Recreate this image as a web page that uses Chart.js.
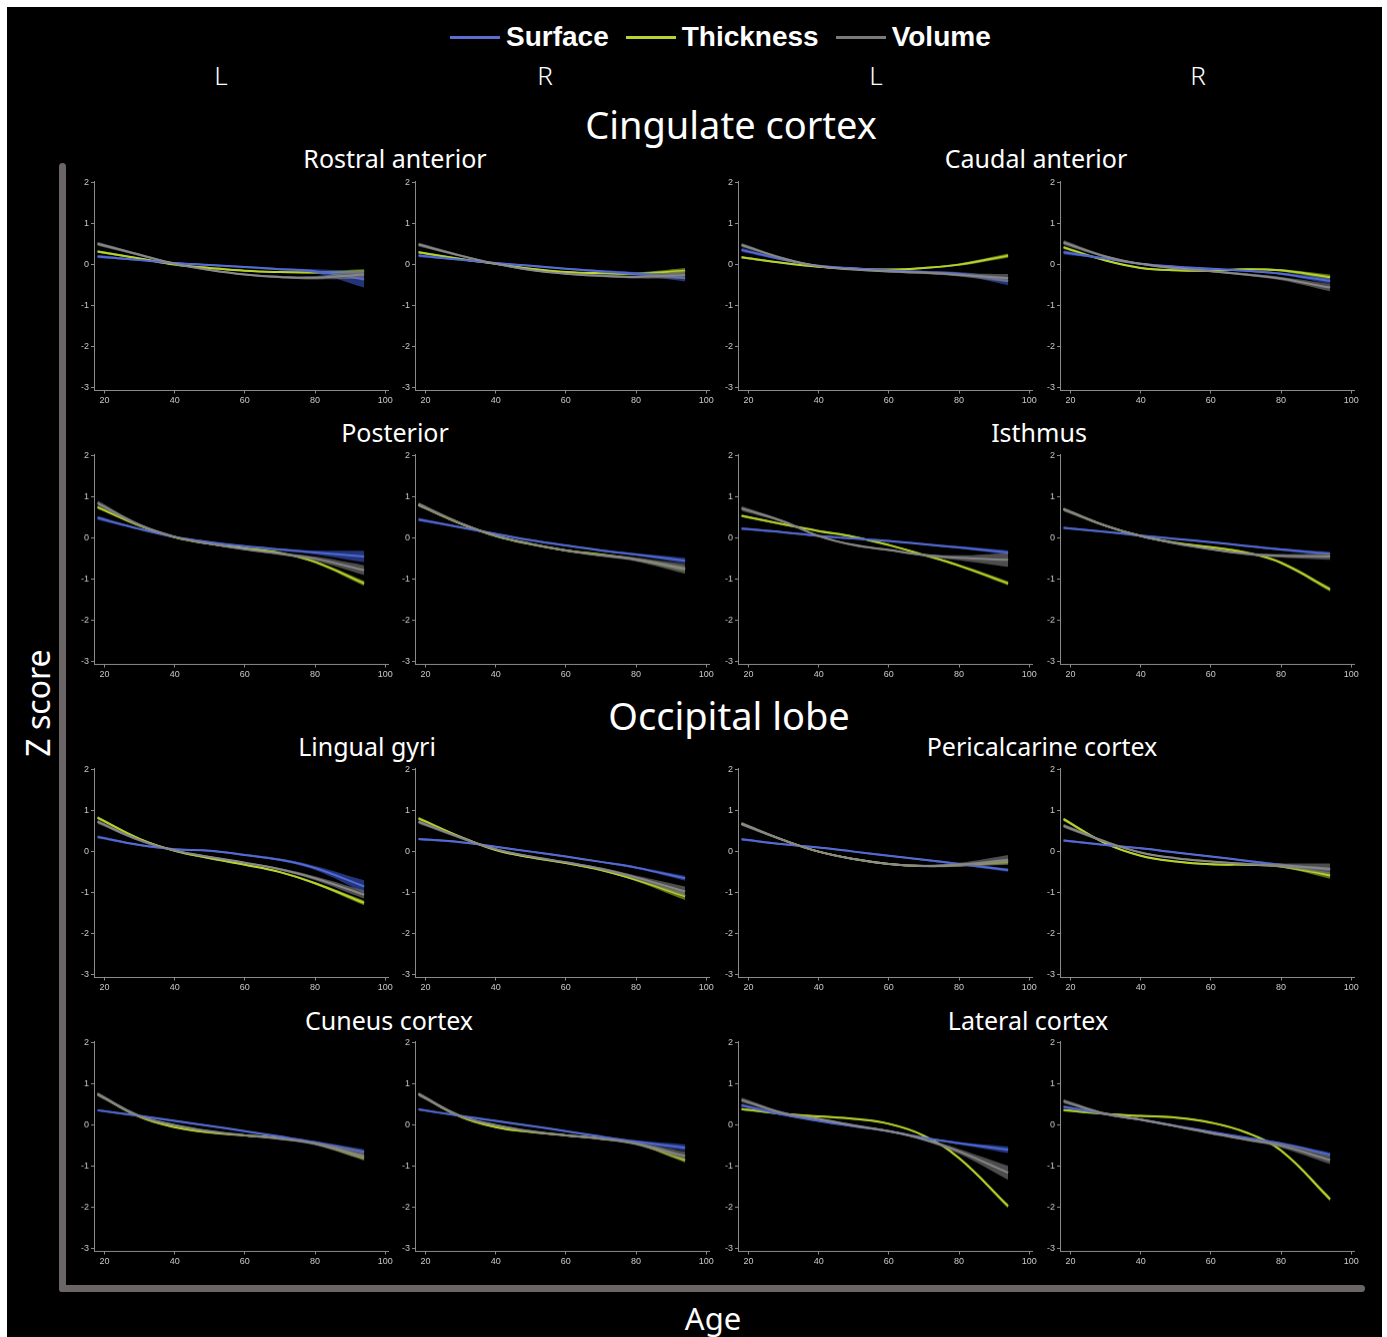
<!DOCTYPE html>
<html>
<head>
<meta charset="utf-8">
<script src="https://cdn.jsdelivr.net/npm/chart.js@4"></script>
<style>
  body { margin: 0; width: 1387px; height: 1337px; background: #fff; position: relative; overflow: hidden; }
  #frame { position: absolute; left: 7px; top: 7px; width: 1375px; height: 1330px; background: #000; }
  .txt { position: absolute; color: #fff; font-family: "Noto Sans", sans-serif; white-space: nowrap; transform: translate(-50%, -50%); line-height: 1; }
  .legend { position: absolute; top: 37px; left: 450px; transform: translateY(-50%); display: flex; align-items: center;
            font-family: "Liberation Sans", Arial, sans-serif; font-weight: bold; font-size: 28px; color: #fff; }
  .legend span.line { display: inline-block; width: 50px; height: 3px; margin-right: 6px; }
  .legend span.lab { margin-right: 17px; }
  .bar { position: absolute; background: #6b6566; border-radius: 4px; }
  .panel { position: absolute; }
</style>
</head>
<body>
<div id="frame"></div>

<div class="legend">
  <span class="line" style="background:#5b6fd2"></span><span class="lab">Surface</span>
  <span class="line" style="background:#b8d432"></span><span class="lab">Thickness</span>
  <span class="line" style="background:#7a7a7a"></span><span class="lab">Volume</span>
</div>

<div class="txt" style="left:221px;top:75px;font-size:26px;font-weight:300">L</div>
<div class="txt" style="left:545px;top:75px;font-size:26px;font-weight:300">R</div>
<div class="txt" style="left:876px;top:75px;font-size:26px;font-weight:300">L</div>
<div class="txt" style="left:1198px;top:75px;font-size:26px;font-weight:300">R</div>

<div class="txt" style="left:731px;top:124px;font-size:38px">Cingulate cortex</div>
<div class="txt" style="left:729px;top:715px;font-size:38px">Occipital lobe</div>

<div class="txt" style="left:395px;top:158px;font-size:25px">Rostral anterior</div>
<div class="txt" style="left:1036px;top:158px;font-size:25px">Caudal anterior</div>
<div class="txt" style="left:395px;top:432px;font-size:25px">Posterior</div>
<div class="txt" style="left:1039px;top:432px;font-size:25px">Isthmus</div>
<div class="txt" style="left:367px;top:746px;font-size:25px">Lingual gyri</div>
<div class="txt" style="left:1042px;top:746px;font-size:25px">Pericalcarine cortex</div>
<div class="txt" style="left:389px;top:1020px;font-size:25px">Cuneus cortex</div>
<div class="txt" style="left:1028px;top:1020px;font-size:25px">Lateral cortex</div>

<div class="txt" style="left:38px;top:703px;font-size:32px;transform:translate(-50%,-50%) rotate(-90deg)">Z score</div>
<div class="txt" style="left:713px;top:1318px;font-size:31px">Age</div>

<div class="bar" style="left:59px;top:163px;width:7px;height:1129px"></div>
<div class="bar" style="left:59px;top:1285px;width:1306px;height:7px"></div>

<div id="panels"></div>

<script>
// =========
// Data
// =========
// Panels go row by row: Rostral L/R, Caudal L/R, Posterior L/R, Isthmus L/R,
// Lingual L/R, Pericalcarine L/R, Cuneus L/R, Lateral L/R

const ages = [18, 30, 40, 50, 60, 70, 80, 94];
const xTicks = [20, 40, 60, 80, 100];
const yTicks = [-3, -2, -1, 0, 1, 2];

const surface = [
  [0.20, 0.11, 0.04, -0.01, -0.06, -0.11, -0.16, -0.36],
  [0.22, 0.12, 0.04, -0.03, -0.10, -0.16, -0.22, -0.33],
  [0.36, 0.12, -0.03, -0.09, -0.14, -0.18, -0.22, -0.40],
  [0.30, 0.15, 0.02, -0.05, -0.10, -0.15, -0.22, -0.40],
  [0.49, 0.22, 0.03, -0.10, -0.20, -0.28, -0.35, -0.45],
  [0.45, 0.26, 0.10, -0.05, -0.18, -0.30, -0.40, -0.55],
  [0.23, 0.14, 0.05, -0.01, -0.07, -0.15, -0.23, -0.35],
  [0.25, 0.15, 0.06, -0.02, -0.10, -0.19, -0.28, -0.38],
  [0.36, 0.16, 0.06, 0.02, -0.08, -0.20, -0.40, -0.85],
  [0.31, 0.23, 0.12, 0.00, -0.12, -0.25, -0.39, -0.65],
  [0.30, 0.18, 0.10, 0.00, -0.10, -0.20, -0.30, -0.45],
  [0.27, 0.16, 0.08, -0.02, -0.12, -0.22, -0.32, -0.44],
  [0.36, 0.22, 0.10, -0.02, -0.15, -0.28, -0.42, -0.65],
  [0.38, 0.22, 0.10, -0.02, -0.15, -0.28, -0.40, -0.55],
  [0.48, 0.25, 0.10, -0.03, -0.15, -0.31, -0.44, -0.60],
  [0.44, 0.27, 0.13, -0.02, -0.17, -0.31, -0.45, -0.72],
];

const thickness = [
  [0.32, 0.15, 0.00, -0.08, -0.15, -0.18, -0.19, -0.17],
  [0.30, 0.14, 0.02, -0.10, -0.18, -0.21, -0.22, -0.15],
  [0.18, 0.04, -0.05, -0.10, -0.12, -0.08, 0.00, 0.22],
  [0.42, 0.10, -0.08, -0.14, -0.15, -0.11, -0.14, -0.31],
  [0.75, 0.30, 0.02, -0.14, -0.25, -0.36, -0.58, -1.10],
  [0.80, 0.35, 0.05, -0.15, -0.30, -0.40, -0.52, -0.75],
  [0.54, 0.33, 0.17, 0.03, -0.17, -0.41, -0.67, -1.10],
  [0.70, 0.30, 0.05, -0.12, -0.22, -0.35, -0.60, -1.25],
  [0.83, 0.31, 0.02, -0.16, -0.32, -0.50, -0.77, -1.25],
  [0.81, 0.36, 0.04, -0.14, -0.28, -0.45, -0.69, -1.09],
  [0.68, 0.28, 0.00, -0.18, -0.30, -0.35, -0.33, -0.25],
  [0.79, 0.20, -0.10, -0.24, -0.31, -0.32, -0.36, -0.58],
  [0.75, 0.20, -0.05, -0.18, -0.25, -0.32, -0.45, -0.80],
  [0.75, 0.20, -0.05, -0.17, -0.25, -0.33, -0.45, -0.85],
  [0.39, 0.27, 0.21, 0.15, 0.03, -0.26, -0.80, -1.97],
  [0.36, 0.27, 0.22, 0.18, 0.06, -0.18, -0.62, -1.80],
];

const volume = [
  [0.51, 0.24, 0.02, -0.13, -0.24, -0.30, -0.32, -0.24],
  [0.49, 0.22, 0.02, -0.13, -0.22, -0.27, -0.30, -0.25],
  [0.48, 0.15, -0.04, -0.12, -0.17, -0.20, -0.25, -0.33],
  [0.54, 0.20, 0.02, -0.09, -0.16, -0.24, -0.34, -0.56],
  [0.85, 0.32, 0.03, -0.14, -0.27, -0.38, -0.50, -0.78],
  [0.82, 0.36, 0.06, -0.14, -0.30, -0.42, -0.52, -0.75],
  [0.72, 0.40, 0.05, -0.17, -0.29, -0.41, -0.48, -0.53],
  [0.70, 0.30, 0.05, -0.13, -0.27, -0.38, -0.43, -0.45],
  [0.73, 0.28, 0.03, -0.13, -0.27, -0.43, -0.65, -1.05],
  [0.73, 0.34, 0.06, -0.12, -0.26, -0.42, -0.63, -0.97],
  [0.68, 0.28, 0.00, -0.18, -0.30, -0.35, -0.32, -0.20],
  [0.63, 0.24, -0.02, -0.16, -0.24, -0.30, -0.34, -0.42],
  [0.75, 0.22, 0.00, -0.15, -0.25, -0.33, -0.45, -0.75],
  [0.75, 0.22, 0.00, -0.15, -0.25, -0.33, -0.45, -0.75],
  [0.61, 0.29, 0.15, -0.01, -0.15, -0.35, -0.64, -1.16],
  [0.58, 0.27, 0.13, -0.03, -0.20, -0.35, -0.50, -0.85],
];

//  Confidence band half-widths (same ages)
const surfaceCI = [
  [0.04, 0.02, 0.02, 0.02, 0.02, 0.03, 0.05, 0.20],
  [0.04, 0.02, 0.02, 0.02, 0.02, 0.03, 0.04, 0.08],
  [0.05, 0.02, 0.02, 0.02, 0.02, 0.03, 0.04, 0.10],
  [0.05, 0.02, 0.02, 0.02, 0.02, 0.02, 0.03, 0.07],
  [0.05, 0.02, 0.02, 0.02, 0.02, 0.03, 0.05, 0.14],
  [0.04, 0.02, 0.02, 0.02, 0.02, 0.02, 0.03, 0.07],
  [0.03, 0.02, 0.02, 0.02, 0.02, 0.02, 0.03, 0.05],
  [0.03, 0.02, 0.02, 0.02, 0.02, 0.02, 0.03, 0.05],
  [0.04, 0.02, 0.02, 0.02, 0.02, 0.03, 0.05, 0.15],
  [0.03, 0.02, 0.02, 0.02, 0.02, 0.02, 0.03, 0.06],
  [0.03, 0.02, 0.02, 0.02, 0.02, 0.02, 0.03, 0.04],
  [0.03, 0.02, 0.02, 0.02, 0.02, 0.02, 0.03, 0.04],
  [0.03, 0.02, 0.02, 0.02, 0.02, 0.02, 0.03, 0.06],
  [0.03, 0.02, 0.02, 0.02, 0.02, 0.02, 0.03, 0.08],
  [0.04, 0.02, 0.02, 0.02, 0.02, 0.02, 0.03, 0.08],
  [0.04, 0.02, 0.02, 0.02, 0.02, 0.02, 0.03, 0.05],
];

const thicknessCI = [
  [0.03, 0.02, 0.02, 0.02, 0.02, 0.02, 0.03, 0.06],
  [0.03, 0.02, 0.02, 0.02, 0.02, 0.02, 0.03, 0.07],
  [0.03, 0.02, 0.02, 0.02, 0.02, 0.02, 0.03, 0.05],
  [0.04, 0.02, 0.02, 0.02, 0.02, 0.02, 0.03, 0.07],
  [0.04, 0.02, 0.02, 0.02, 0.02, 0.02, 0.03, 0.06],
  [0.03, 0.02, 0.02, 0.02, 0.02, 0.02, 0.03, 0.06],
  [0.03, 0.02, 0.02, 0.02, 0.02, 0.02, 0.03, 0.05],
  [0.03, 0.02, 0.02, 0.02, 0.02, 0.02, 0.03, 0.05],
  [0.04, 0.02, 0.02, 0.02, 0.02, 0.02, 0.03, 0.06],
  [0.04, 0.02, 0.02, 0.02, 0.02, 0.02, 0.03, 0.09],
  [0.03, 0.02, 0.02, 0.02, 0.02, 0.02, 0.03, 0.06],
  [0.04, 0.02, 0.02, 0.02, 0.02, 0.02, 0.03, 0.08],
  [0.03, 0.02, 0.02, 0.02, 0.02, 0.02, 0.03, 0.06],
  [0.03, 0.02, 0.02, 0.02, 0.02, 0.02, 0.03, 0.06],
  [0.03, 0.02, 0.02, 0.02, 0.02, 0.02, 0.03, 0.05],
  [0.03, 0.02, 0.02, 0.02, 0.02, 0.02, 0.03, 0.05],
];

const volumeCI = [
  [0.05, 0.03, 0.02, 0.02, 0.02, 0.03, 0.04, 0.10],
  [0.05, 0.03, 0.02, 0.02, 0.02, 0.03, 0.04, 0.10],
  [0.05, 0.03, 0.02, 0.02, 0.02, 0.03, 0.04, 0.10],
  [0.06, 0.03, 0.02, 0.02, 0.02, 0.03, 0.04, 0.09],
  [0.06, 0.03, 0.02, 0.02, 0.02, 0.03, 0.05, 0.12],
  [0.05, 0.03, 0.02, 0.02, 0.02, 0.03, 0.05, 0.12],
  [0.06, 0.03, 0.02, 0.02, 0.02, 0.03, 0.06, 0.17],
  [0.05, 0.03, 0.02, 0.02, 0.02, 0.03, 0.04, 0.08],
  [0.05, 0.03, 0.02, 0.02, 0.02, 0.03, 0.05, 0.10],
  [0.05, 0.03, 0.02, 0.02, 0.02, 0.03, 0.05, 0.12],
  [0.05, 0.03, 0.02, 0.02, 0.02, 0.03, 0.05, 0.12],
  [0.05, 0.03, 0.02, 0.02, 0.02, 0.03, 0.05, 0.13],
  [0.05, 0.03, 0.02, 0.02, 0.02, 0.03, 0.04, 0.10],
  [0.05, 0.03, 0.02, 0.02, 0.02, 0.03, 0.04, 0.10],
  [0.06, 0.03, 0.02, 0.02, 0.02, 0.03, 0.06, 0.17],
  [0.05, 0.03, 0.02, 0.02, 0.02, 0.03, 0.05, 0.10],
];


// ======
// Layout
// ======
//  plot-area left edges (per column) and top edges (per row), in page px
const colLeft = [94, 414.5, 738, 1059.5];
const rowTop = [179.5, 453, 766.5, 1040];
const areaW = 294;
const areaH = 210.5;
const yAxisW = 20;
const xAxisH = 18;
const padTop = 6;
const padRight = 12;

const measures = [
  {name: 'Volume', mean: volume, ci: volumeCI, line: '#a3a3a3', band: 'rgba(118, 118, 118, 0.65)'},
  {name: 'Surface', mean: surface, ci: surfaceCI, line: '#6f86e6', band: 'rgba(60, 86, 200, 0.6)'},
  {name: 'Thickness', mean: thickness, ci: thicknessCI, line: '#d2ec3c', band: 'rgba(160, 190, 30, 0.6)'},
];


// ======
// Charts
// ======
const panelsDiv = document.getElementById('panels');

const buildDatasets = (p) => {
  const sets = [];
  measures.forEach((m) => {
    const mean = m.mean[p];
    const ci = m.ci[p];
    const upper = ages.map((a, i) => ({x: a, y: mean[i] + ci[i]}));
    const lower = ages.map((a, i) => ({x: a, y: mean[i] - ci[i]}));
    const centre = ages.map((a, i) => ({x: a, y: mean[i]}));

    sets.push({data: upper, borderWidth: 0, pointRadius: 0, fill: '+1', backgroundColor: m.band});
    sets.push({data: lower, borderWidth: 0, pointRadius: 0, fill: false});
    sets.push({data: centre, borderWidth: 2, borderColor: m.line, pointRadius: 0, fill: false});
  });
  return sets;
};

const axisColor = '#8a8a8a';

for (let p = 0; p < 16; p++) {
  const col = p % 4;
  const row = Math.floor(p / 4);

  const box = document.createElement('div');
  box.className = 'panel';
  box.style.left = (colLeft[col] - yAxisW) + 'px';
  box.style.top = (rowTop[row] - padTop) + 'px';
  box.style.width = (yAxisW + areaW + padRight) + 'px';
  box.style.height = (padTop + areaH + xAxisH) + 'px';
  const canvas = document.createElement('canvas');
  box.appendChild(canvas);
  panelsDiv.appendChild(box);

  new Chart(canvas, {
    type: 'line',
    data: {datasets: buildDatasets(p)},
    options: {
      responsive: true,
      maintainAspectRatio: false,
      animation: {duration: 0},
      layout: {padding: {top: padTop, right: padRight, left: 0, bottom: 0}},
      elements: {line: {tension: 0.4}},
      plugins: {legend: {display: false}, tooltip: {enabled: false}},
      scales: {
        x: {
          type: 'linear',
          min: 17,
          max: 100.8,
          afterBuildTicks: (axis) => { axis.ticks = xTicks.map((v) => ({value: v})); },
          afterFit: (axis) => { axis.height = xAxisH; },
          border: {color: axisColor, width: 1},
          grid: {drawOnChartArea: false, drawTicks: true, tickLength: 3, color: axisColor},
          ticks: {color: '#c8c8c8', font: {size: 9, family: 'Liberation Sans'}, padding: 2, maxRotation: 0},
        },
        y: {
          min: -3.07,
          max: 2.03,
          afterBuildTicks: (axis) => { axis.ticks = yTicks.map((v) => ({value: v})); },
          afterFit: (axis) => { axis.width = yAxisW; },
          border: {color: axisColor, width: 1},
          grid: {drawOnChartArea: false, drawTicks: true, tickLength: 3, color: axisColor},
          ticks: {color: '#c8c8c8', font: {size: 9, family: 'Liberation Sans'}, padding: 2},
        },
      },
    },
  });
}
</script>
</body>
</html>
